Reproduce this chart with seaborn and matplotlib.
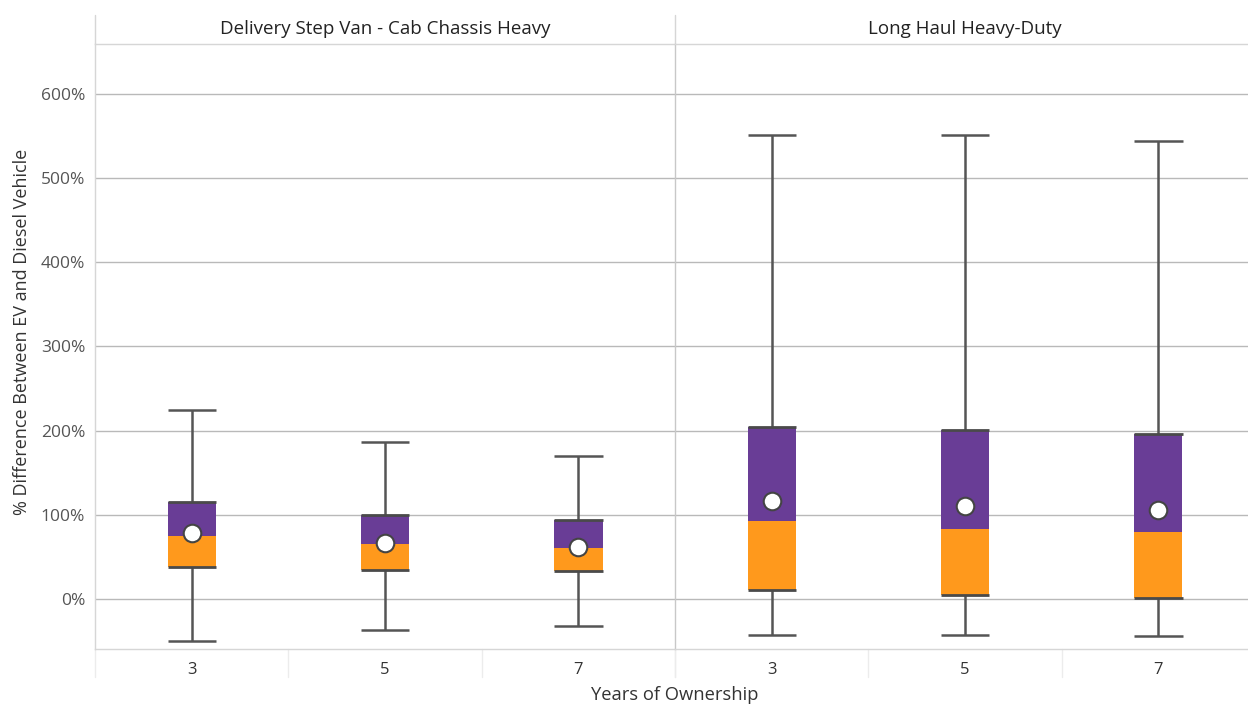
import numpy as np
import pandas as pd
import matplotlib
matplotlib.use("Agg")
import matplotlib.pyplot as plt
import seaborn as sns

# values (% difference EV vs diesel)
years = ["3", "5", "7"]
segments = ["Delivery Step Van - Cab Chassis Heavy", "Long Haul Heavy-Duty"]

van_low = [-50, -37, -32]
van_q1 = [38, 34, 33]
van_med = [75, 65, 60]
van_q3 = [115, 100, 94]
van_high = [224, 186, 170]
van_mean = [78, 67, 62]

haul_low = [-43, -43, -44]
haul_q1 = [11, 5, 1]
haul_med = [92, 83, 79]
haul_q3 = [204, 201, 196]
haul_high = [551, 551, 544]
haul_mean = [116, 110, 106]

rows = []
for seg, lo, q1, med, q3, hi, mn in [
    (segments[0], van_low, van_q1, van_med, van_q3, van_high, van_mean),
    (segments[1], haul_low, haul_q1, haul_med, haul_q3, haul_high, haul_mean),
]:
    for i, y in enumerate(years):
        rows.append(dict(segment=seg, year=y, low=lo[i], q1=q1[i], med=med[i],
                         q3=q3[i], high=hi[i], mean=mn[i]))
df = pd.DataFrame(rows)

sns.set_theme(style="white")
plt.rcParams["font.family"] = ["Open Sans", "DejaVu Sans"]

purple = "#693d96"
orange = "#ff991c"
line_c = "#555555"
W, H = 1248, 707

fig, axes = plt.subplots(1, 2, figsize=(12.48, 7.07), dpi=100, sharey=True)
# right panel runs a little past the image edge, as in the original
fig.subplots_adjust(left=95 / W, right=(95 + 1160) / W, bottom=1 - 649 / H,
                    top=1 - 44 / H, wspace=0)

bw = 0.25
for ax, seg in zip(axes, segments):
    d = df[df.segment == seg].reset_index(drop=True)
    x = np.arange(len(d))
    ax.set_axisbelow(True)
    ax.grid(axis="y", color="#b9b9b9", lw=1)
    # whiskers and caps
    ax.vlines(x, d["low"], d["q1"], color=line_c, lw=1.8, zorder=2)
    ax.vlines(x, d["q3"], d["high"], color=line_c, lw=1.8, zorder=2)
    ax.hlines(d["low"], x - bw / 2, x + bw / 2, color=line_c, lw=1.8, zorder=2)
    ax.hlines(d["high"], x - bw / 2, x + bw / 2, color=line_c, lw=1.8, zorder=2)
    # box halves
    ax.bar(x, d["q3"] - d["med"], bottom=d["med"], width=bw, color=purple, lw=0, zorder=3)
    ax.bar(x, d["med"] - d["q1"], bottom=d["q1"], width=bw, color=orange, lw=0, zorder=3)
    ax.hlines(d["q3"], x - bw / 2, x + bw / 2, color="#4a4a4a", lw=2, zorder=4)
    ax.hlines(d["q1"], x - bw / 2, x + bw / 2, color="#4a4a4a", lw=2, zorder=4)
    # means
    sns.scatterplot(x=x, y=d["mean"], ax=ax, s=160, color="white",
                    edgecolor="#444444", linewidth=1.5, zorder=5, legend=False)
    ax.set_xticks(x)
    ax.set_xticklabels(d["year"])
    ax.set_xlim(-0.5, len(d) - 0.5)
    ax.set_xlabel("")
    ax.set_ylabel("")
    ax.tick_params(axis="x", length=0, pad=9, labelsize=12, labelcolor="#333333")
    ax.tick_params(axis="y", length=0, pad=7, labelsize=12.5, labelcolor="#555555")
    for s in ["top", "bottom", "left"]:
        ax.spines[s].set_visible(True)
        ax.spines[s].set_color("#d6d6d6")
        ax.spines[s].set_linewidth(1)
    ax.spines["right"].set_visible(False)
    # separators below the axis between categories
    tr = ax.get_xaxis_transform()
    for b in np.arange(-0.5, len(d), 1.0):
        ax.plot([b, b], [0, -28 / 605], transform=tr, color="#ececec", lw=1, clip_on=False)
    # facet title band
    ax.plot([-0.5, -0.5], [1, 1 + 29 / 605], transform=tr, color="#d6d6d6", lw=1, clip_on=False)
    ax.text(0.5, 1 + 15 / 605, seg, transform=ax.transAxes, ha="center", va="center",
            fontsize=13.5, color="#222222")

axes[1].spines["left"].set_color("#c8c8c8")
axes[0].set_ylim(-59.4, 659)
axes[0].set_yticks(range(0, 700, 100))
axes[0].set_yticklabels([f"{v}%" for v in range(0, 700, 100)])

fig.text(22 / W, 1 - 332 / H, "% Difference Between EV and Diesel Vehicle", rotation=90,
         ha="center", va="center", fontsize=13, color="#333333")
fig.text(675 / W, 1 - 695 / H, "Years of Ownership", ha="center", va="center",
         fontsize=13.2, color="#333333")

fig.savefig("out.png", dpi=100)
